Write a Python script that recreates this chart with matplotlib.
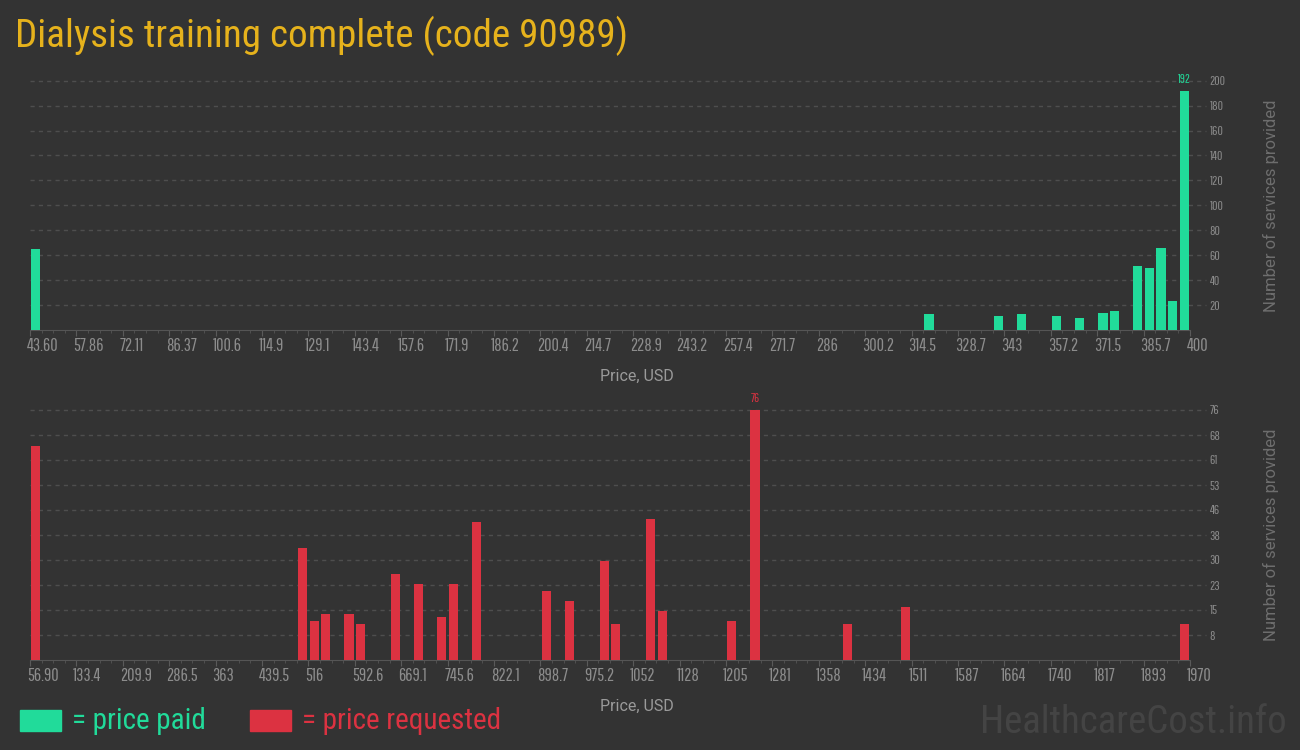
import matplotlib
matplotlib.use('Agg')
import matplotlib.pyplot as plt
import numpy as np
from matplotlib.patches import Rectangle
from matplotlib import transforms

# fonts: condensed faces with plain fallbacks
TITLE_FONT = ['Roboto Condensed', 'Roboto', 'DejaVu Sans']
TICK_FONT = ['Pathway Gothic One', 'Oswald', 'Roboto Condensed', 'Roboto', 'DejaVu Sans']
LABEL_FONT = ['Roboto', 'DejaVu Sans']
plt.rcParams['font.family'] = TITLE_FONT

# price paid (top panel)
paid_prices = [45.38, 319.81, 341.19, 348.32, 359.01, 366.14, 373.27, 376.84,
               383.96, 387.52, 391.09, 394.65, 398.22]
paid_counts = [65, 13, 11, 13, 11, 10, 14, 15, 51, 50, 66, 23, 192]
paid_ticklabels = ['43.60', '57.86', '72.11', '86.37', '100.6', '114.9', '129.1',
                   '143.4', '157.6', '171.9', '186.2', '200.4', '214.7', '228.9',
                   '243.2', '257.4', '271.7', '286', '300.2', '314.5', '328.7',
                   '343', '357.2', '371.5', '385.7', '400']
paid_yticks = [20, 40, 60, 80, 100, 120, 140, 160, 180, 200]
paid_ylabels = ['20', '40', '60', '80', '100', '120', '140', '160', '180', '200']

# price requested (bottom panel)
req_prices = [66.47, 506.48, 525.61, 544.74, 582.99, 602.13, 659.53, 697.79,
              736.05, 755.18, 793.44, 908.23, 946.49, 1003.88, 1023.01, 1080.41,
              1099.54, 1214.33, 1252.59, 1405.64, 1501.29, 1960.43]
req_counts = [65, 34, 12, 14, 14, 11, 26, 23, 13, 23, 42, 21, 18, 30, 11, 43,
              15, 12, 76, 11, 16, 11]
req_ticklabels = ['56.90', '133.4', '209.9', '286.5', '363', '439.5', '516',
                  '592.6', '669.1', '745.6', '822.1', '898.7', '975.2', '1052',
                  '1128', '1205', '1281', '1358', '1434', '1511', '1587', '1664',
                  '1740', '1817', '1893', '1970']
req_yticks = [7.6, 15.2, 22.8, 30.4, 38, 45.6, 53.2, 60.8, 68.4, 76]
req_ylabels = ['8', '15', '23', '30', '38', '46', '53', '61', '68', '76']

bg = '#333333'
green = '#21db9a'
red = '#dc3241'
gold = '#e6b21c'
gridc = '#4e4e4e'

fig = plt.figure(figsize=(13, 7.5), dpi=100, facecolor=bg)


def panel(rect, prices, counts, labels, yticks, ylabels, color):
    ax = fig.add_axes(rect)
    ax.set_facecolor(bg)
    ticks = np.linspace(float(labels[0]), float(labels[-1]), len(labels))
    lo, hi = ticks[0], ticks[-1]
    binw = (hi - lo) / 100
    ax.bar(prices, counts, width=binw * 0.78, color=color, zorder=3)
    ax.set_xlim(lo, hi)
    ax.set_ylim(0, yticks[-1])

    # dashed grid running a little past the right edge
    for y in yticks:
        ax.axhline(y, xmin=0, xmax=1.014, color=gridc, lw=1,
                   ls=(0, (3, 3)), clip_on=False, zorder=1)

    ax.set_xticks(ticks)
    ax.set_xticklabels(labels, family=TICK_FONT)
    ax.set_xticks(np.linspace(lo, hi, 25 * 4 + 1), minor=True)
    ax.tick_params(axis='x', which='major', length=4, color='#5a5a5a',
                   labelsize=13, labelcolor='#8c8c8c', pad=2)
    ax.tick_params(axis='x', which='minor', length=2, color='#555555')
    shift = transforms.ScaledTranslation(-3 / 100, 0, fig.dpi_scale_trans)
    for lab in ax.get_xticklabels():
        lab.set_horizontalalignment('left')
        lab.set_transform(lab.get_transform() + shift)

    ax.yaxis.tick_right()
    ax.set_yticks(yticks)
    ax.set_yticklabels(ylabels, family=TICK_FONT)
    ax.tick_params(axis='y', length=0, pad=14, labelsize=9.5, labelcolor='#8a8a8a')

    for s in ['top', 'left', 'right']:
        ax.spines[s].set_visible(False)
    ax.spines['bottom'].set_color('#555555')

    ax.set_xlabel('Price, USD', family=LABEL_FONT, fontsize=11.5, color='#9a9a9a')
    ax.xaxis.set_label_coords(0.523, -0.155)
    ax.set_ylabel('Number of services provided', family=LABEL_FONT, fontsize=12,
                  color='#6e6e6e')
    ax.yaxis.set_label_position('right')
    ax.yaxis.set_label_coords(1.063, 0.5)

    i = int(np.argmax(counts))
    ax.annotate(str(counts[i]), (prices[i], counts[i]), xytext=(0, 4),
                textcoords='offset points', ha='center', va='bottom',
                family=TICK_FONT, fontsize=9, color=color, annotation_clip=False)
    return ax


panel([30 / 1300, 1 - 330 / 750, 1160 / 1300, 249.3 / 750],
      paid_prices, paid_counts, paid_ticklabels, paid_yticks, paid_ylabels, green)
panel([30 / 1300, 1 - 660 / 750, 1160 / 1300, 250 / 750],
      req_prices, req_counts, req_ticklabels, req_yticks, req_ylabels, red)

fig.text(15 / 1300, 1 - 47 / 750, 'Dialysis training complete (code 90989)',
         fontsize=28.2, color=gold, va='baseline', ha='left')

# legend
fig.add_artist(Rectangle((20 / 1300, 1 - 731 / 750), 41 / 1300, 21 / 750,
                         transform=fig.transFigure, color=green))
fig.text(72 / 1300, 1 - 729 / 750, '= price paid', fontsize=21, color=green,
         va='baseline', ha='left')
fig.add_artist(Rectangle((250 / 1300, 1 - 731 / 750), 41 / 1300, 21 / 750,
                         transform=fig.transFigure, color=red))
fig.text(302 / 1300, 1 - 729 / 750, '= price requested', fontsize=21, color=red,
         va='baseline', ha='left')

fig.text(1287 / 1300, 1 - 733 / 750, 'HealthcareCost.info', fontsize=28,
         color='#444444', va='baseline', ha='right')

fig.savefig('out.png', dpi=100, facecolor=bg)
